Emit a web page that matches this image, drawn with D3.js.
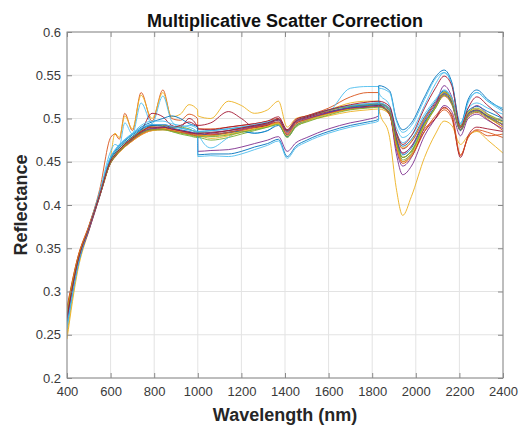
<!DOCTYPE html>
<html>
<head>
<meta charset="utf-8">
<script src="https://cdn.jsdelivr.net/npm/d3@7"></script>
<style>
  body { margin: 0; background: #fff; }
  text { font-family: "Liberation Sans", Arial, sans-serif; }
</style>
</head>
<body>
<script>
// wavelength grid (nm), shared by every spectrum
const wavelength = [400,450,500,550,600,620,640,665,700,740,790,840,880,920,960,999,
  1000,1060,1140,1200,1260,1320,1370,1410,1450,1500,1600,1700,1780,1829,
  1830,1880,1910,1940,1980,2040,2090,2130,2165,2205,2240,2280,2330,2400]

// reflectance after MSC, one array per sample
const spec01 = [0.262,0.330,0.372,0.413,0.454,0.462,0.468,0.474,0.481,0.488,0.493,0.493,0.491,0.489,0.487,0.485,0.485,0.486,0.488,0.490,0.492,0.495,0.499,0.485,0.497,0.502,0.510,0.515,0.517,0.518,0.518,0.511,0.483,0.468,0.476,0.502,0.520,0.532,0.522,0.492,0.509,0.514,0.508,0.500]
const spec02 = [0.275,0.338,0.375,0.418,0.478,0.482,0.476,0.506,0.486,0.530,0.497,0.533,0.500,0.498,0.505,0.500,0.488,0.488,0.490,0.492,0.494,0.497,0.500,0.486,0.498,0.503,0.512,0.525,0.530,0.530,0.520,0.505,0.472,0.455,0.462,0.488,0.500,0.510,0.500,0.457,0.478,0.486,0.480,0.482]
const spec03 = [0.245,0.325,0.370,0.410,0.455,0.483,0.478,0.503,0.488,0.527,0.500,0.530,0.502,0.505,0.516,0.510,0.503,0.500,0.520,0.515,0.506,0.510,0.520,0.490,0.500,0.503,0.510,0.518,0.520,0.520,0.512,0.478,0.420,0.388,0.410,0.455,0.482,0.497,0.492,0.470,0.480,0.485,0.475,0.460]
const spec04 = [0.270,0.333,0.370,0.410,0.450,0.457,0.463,0.469,0.476,0.483,0.488,0.489,0.487,0.485,0.483,0.482,0.462,0.463,0.464,0.467,0.471,0.475,0.479,0.462,0.472,0.478,0.488,0.495,0.499,0.503,0.514,0.505,0.465,0.445,0.455,0.490,0.515,0.538,0.525,0.487,0.505,0.515,0.505,0.492]
const spec05 = [0.272,0.336,0.374,0.412,0.451,0.458,0.464,0.470,0.477,0.484,0.488,0.488,0.485,0.482,0.480,0.478,0.478,0.475,0.478,0.482,0.486,0.490,0.494,0.479,0.490,0.497,0.506,0.512,0.514,0.515,0.515,0.507,0.475,0.455,0.462,0.492,0.512,0.530,0.520,0.490,0.506,0.509,0.503,0.496]
const spec06 = [0.255,0.330,0.373,0.415,0.462,0.470,0.468,0.495,0.482,0.518,0.494,0.526,0.497,0.490,0.492,0.488,0.484,0.466,0.478,0.486,0.483,0.486,0.494,0.480,0.492,0.498,0.507,0.535,0.537,0.537,0.530,0.515,0.490,0.478,0.485,0.515,0.540,0.553,0.540,0.495,0.520,0.530,0.520,0.508]
const spec07 = [0.278,0.338,0.374,0.412,0.450,0.457,0.463,0.470,0.478,0.486,0.506,0.502,0.492,0.490,0.500,0.490,0.488,0.487,0.490,0.492,0.494,0.497,0.502,0.487,0.499,0.503,0.510,0.514,0.516,0.517,0.517,0.512,0.482,0.465,0.473,0.500,0.518,0.530,0.520,0.489,0.506,0.510,0.502,0.490]
const spec08 = [0.266,0.332,0.372,0.412,0.455,0.463,0.469,0.475,0.482,0.490,0.496,0.500,0.503,0.500,0.494,0.490,0.458,0.459,0.459,0.462,0.467,0.471,0.476,0.456,0.468,0.475,0.485,0.492,0.496,0.499,0.538,0.532,0.500,0.487,0.495,0.525,0.548,0.556,0.542,0.492,0.522,0.533,0.522,0.510]
const spec09 = [0.280,0.340,0.376,0.413,0.450,0.456,0.461,0.467,0.474,0.481,0.486,0.487,0.486,0.484,0.482,0.480,0.480,0.481,0.483,0.486,0.489,0.492,0.495,0.482,0.494,0.499,0.506,0.511,0.513,0.514,0.514,0.506,0.477,0.460,0.468,0.495,0.513,0.526,0.516,0.486,0.502,0.507,0.499,0.486]
const spec10 = [0.250,0.328,0.371,0.411,0.448,0.455,0.461,0.467,0.474,0.481,0.486,0.487,0.486,0.484,0.482,0.480,0.480,0.477,0.480,0.484,0.488,0.491,0.494,0.481,0.492,0.497,0.503,0.508,0.510,0.511,0.511,0.505,0.480,0.466,0.474,0.500,0.516,0.527,0.518,0.490,0.505,0.509,0.501,0.490]
const spec11 = [0.272,0.334,0.372,0.411,0.449,0.456,0.462,0.468,0.475,0.483,0.488,0.489,0.487,0.485,0.483,0.481,0.481,0.482,0.484,0.487,0.490,0.493,0.496,0.481,0.494,0.499,0.507,0.512,0.514,0.515,0.515,0.505,0.460,0.435,0.445,0.480,0.500,0.515,0.508,0.480,0.500,0.505,0.498,0.488]
const spec12 = [0.265,0.332,0.373,0.414,0.453,0.460,0.466,0.472,0.479,0.486,0.491,0.492,0.490,0.490,0.488,0.484,0.484,0.484,0.486,0.489,0.491,0.494,0.498,0.485,0.496,0.501,0.509,0.514,0.516,0.517,0.517,0.510,0.477,0.452,0.460,0.493,0.514,0.531,0.522,0.492,0.508,0.512,0.505,0.497]
const spec13 = [0.258,0.329,0.373,0.414,0.456,0.464,0.470,0.476,0.483,0.492,0.497,0.497,0.494,0.492,0.490,0.484,0.456,0.457,0.456,0.459,0.464,0.469,0.474,0.454,0.466,0.473,0.483,0.490,0.494,0.497,0.535,0.530,0.498,0.484,0.492,0.522,0.546,0.553,0.540,0.490,0.518,0.530,0.520,0.512]
const spec14 = [0.275,0.336,0.373,0.411,0.449,0.456,0.462,0.468,0.476,0.484,0.492,0.493,0.490,0.492,0.496,0.492,0.492,0.495,0.508,0.500,0.490,0.492,0.500,0.487,0.497,0.501,0.508,0.512,0.514,0.515,0.515,0.505,0.470,0.450,0.458,0.485,0.500,0.513,0.503,0.455,0.480,0.490,0.488,0.485]
const spec15 = [0.263,0.331,0.372,0.413,0.453,0.460,0.466,0.472,0.479,0.487,0.492,0.491,0.489,0.487,0.485,0.483,0.483,0.480,0.484,0.485,0.483,0.486,0.492,0.479,0.492,0.498,0.507,0.513,0.515,0.516,0.516,0.509,0.476,0.458,0.466,0.496,0.514,0.529,0.519,0.486,0.506,0.510,0.503,0.497]
const spec16 = [0.282,0.340,0.375,0.412,0.449,0.456,0.462,0.468,0.475,0.482,0.487,0.488,0.486,0.484,0.482,0.480,0.480,0.481,0.484,0.487,0.490,0.493,0.496,0.483,0.495,0.499,0.506,0.511,0.513,0.514,0.514,0.504,0.468,0.448,0.456,0.485,0.503,0.512,0.505,0.458,0.478,0.487,0.484,0.478]
const spec17 = [0.276,0.337,0.374,0.412,0.450,0.457,0.463,0.469,0.477,0.485,0.490,0.489,0.487,0.485,0.484,0.481,0.481,0.480,0.482,0.485,0.488,0.491,0.495,0.480,0.493,0.498,0.505,0.511,0.513,0.514,0.514,0.508,0.470,0.450,0.458,0.492,0.513,0.530,0.521,0.491,0.507,0.511,0.504,0.496]
const spec18 = [0.268,0.333,0.371,0.410,0.449,0.456,0.462,0.468,0.476,0.484,0.489,0.490,0.488,0.486,0.484,0.483,0.483,0.484,0.486,0.488,0.491,0.494,0.498,0.484,0.496,0.500,0.507,0.512,0.513,0.514,0.514,0.507,0.478,0.460,0.468,0.498,0.516,0.528,0.518,0.487,0.504,0.509,0.502,0.493]
const spec19 = [0.274,0.336,0.373,0.411,0.449,0.456,0.462,0.468,0.476,0.483,0.487,0.487,0.485,0.483,0.481,0.479,0.479,0.479,0.481,0.484,0.487,0.490,0.493,0.478,0.491,0.496,0.504,0.510,0.512,0.513,0.513,0.506,0.473,0.455,0.463,0.494,0.512,0.527,0.517,0.487,0.503,0.508,0.501,0.494]
const spec20 = [0.260,0.331,0.373,0.414,0.455,0.463,0.469,0.475,0.482,0.489,0.493,0.493,0.491,0.489,0.487,0.485,0.485,0.486,0.488,0.490,0.493,0.496,0.499,0.486,0.497,0.502,0.510,0.515,0.517,0.518,0.518,0.512,0.485,0.472,0.480,0.505,0.522,0.533,0.524,0.494,0.512,0.518,0.512,0.505]
const spec21 = [0.270,0.335,0.373,0.412,0.451,0.458,0.464,0.470,0.477,0.485,0.490,0.490,0.488,0.486,0.484,0.482,0.482,0.483,0.486,0.489,0.492,0.495,0.499,0.486,0.497,0.502,0.510,0.516,0.519,0.520,0.520,0.514,0.485,0.470,0.480,0.512,0.535,0.549,0.538,0.490,0.512,0.525,0.515,0.500]

const spectra = [spec01,spec02,spec03,spec04,spec05,spec06,spec07,spec08,spec09,spec10,
                 spec11,spec12,spec13,spec14,spec15,spec16,spec17,spec18,spec19,spec20,spec21]

const xTicks = [400,600,800,1000,1200,1400,1600,1800,2000,2200,2400]
const yTicks = [0.2,0.25,0.3,0.35,0.4,0.45,0.5,0.55,0.6]

// matlab default line colours
const lineColors = ["#0072BD","#D95319","#EDB120","#7E2F8E","#77AC30","#4DBEEE","#A2142F"]

const W = 521, H = 432
const plotL = 67, plotR = 503, plotT = 32, plotB = 378

const svg = d3.select("body").append("svg")
    .attr("width", W)
    .attr("height", H)

const x = d3.scaleLinear().domain([400, 2400]).range([plotL, plotR])
const y = d3.scaleLinear().domain([0.2, 0.6]).range([plotB, plotT])

// grid
svg.append("g").selectAll("line")
    .data(xTicks)
    .enter().append("line")
    .attr("x1", d => x(d)).attr("x2", d => x(d))
    .attr("y1", plotT).attr("y2", plotB)
    .attr("stroke", "#e3e3e3")
svg.append("g").selectAll("line")
    .data(yTicks)
    .enter().append("line")
    .attr("x1", plotL).attr("x2", plotR)
    .attr("y1", d => y(d)).attr("y2", d => y(d))
    .attr("stroke", "#e3e3e3")

svg.append("clipPath").attr("id", "plotClip")
  .append("rect")
    .attr("x", plotL).attr("y", plotT)
    .attr("width", plotR - plotL).attr("height", plotB - plotT)

const line = d3.line()
    .x((d, i) => x(wavelength[i]))
    .y(d => y(d))
    .curve(d3.curveMonotoneX)

svg.append("g")
    .attr("clip-path", "url(#plotClip)")
  .selectAll("path")
    .data(spectra)
    .enter().append("path")
    .attr("d", line)
    .attr("fill", "none")
    .attr("stroke", (d, i) => lineColors[i % lineColors.length])
    .attr("stroke-width", 1)
    .attr("stroke-opacity", 0.9)

// axes
const axisColor = "#8a8a8a"
const tickText = "#3a3a3a"

function styleAxis(g) {
  g.select(".domain").remove()
  g.selectAll(".tick line").attr("stroke", axisColor)
  g.selectAll(".tick text")
    .attr("fill", tickText)
    .style("font-size", "13px")
    .style("font-family", '"Liberation Sans", Arial, sans-serif')
}

svg.append("g")
    .attr("transform", "translate(0," + plotB + ")")
    .call(d3.axisBottom(x).tickValues(xTicks).tickSizeInner(-5).tickSizeOuter(0).tickPadding(9).tickFormat(d3.format("d")))
    .call(styleAxis)
svg.append("g")
    .attr("transform", "translate(0," + plotT + ")")
    .call(d3.axisTop(x).tickValues(xTicks).tickSizeInner(-5).tickSizeOuter(0).tickFormat(""))
    .call(styleAxis)
svg.append("g")
    .attr("transform", "translate(" + plotL + ",0)")
    .call(d3.axisLeft(y).tickValues(yTicks).tickSizeInner(-5).tickSizeOuter(0).tickPadding(6).tickFormat(d => String(+d.toFixed(2))))
    .call(styleAxis)
svg.append("g")
    .attr("transform", "translate(" + plotR + ",0)")
    .call(d3.axisRight(y).tickValues(yTicks).tickSizeInner(-5).tickSizeOuter(0).tickFormat(""))
    .call(styleAxis)

svg.append("rect")
    .attr("x", plotL).attr("y", plotT)
    .attr("width", plotR - plotL).attr("height", plotB - plotT)
    .attr("fill", "none")
    .attr("stroke", axisColor)

// titles
svg.append("text")
    .attr("x", (plotL + plotR) / 2).attr("y", 27)
    .attr("text-anchor", "middle")
    .style("font-size", "18px").style("font-weight", "bold")
    .attr("fill", "#111")
    .text("Multiplicative Scatter Correction")

svg.append("text")
    .attr("x", (plotL + plotR) / 2).attr("y", 421)
    .attr("text-anchor", "middle")
    .style("font-size", "18px").style("font-weight", "bold")
    .attr("fill", "#262626")
    .text("Wavelength (nm)")

svg.append("text")
    .attr("transform", "translate(27," + ((plotT + plotB) / 2) + ") rotate(-90)")
    .attr("text-anchor", "middle")
    .style("font-size", "18px").style("font-weight", "bold")
    .attr("fill", "#262626")
    .text("Reflectance")
</script>
</body>
</html>
